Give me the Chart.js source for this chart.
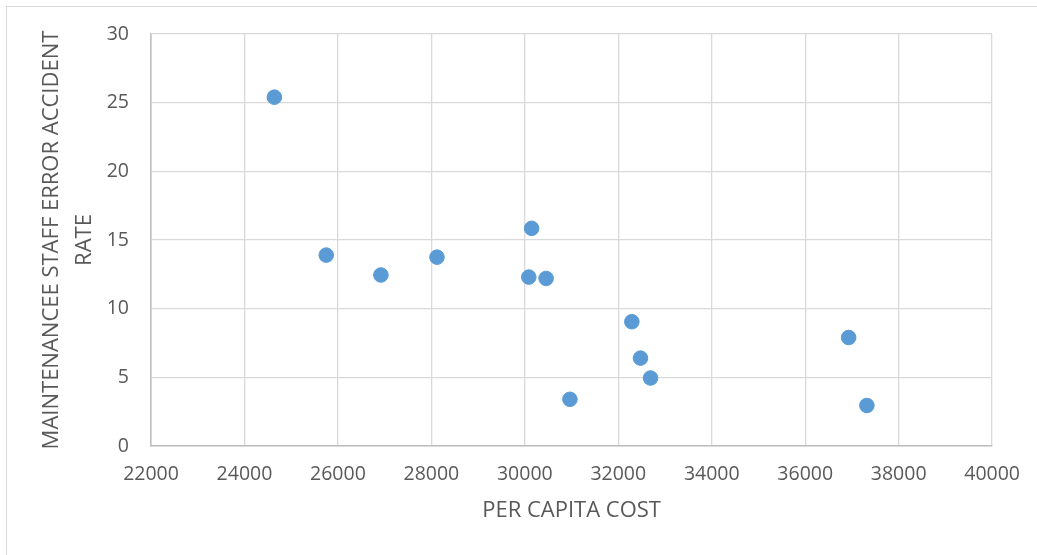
<!DOCTYPE html>
<html lang="en">
<head>
    <meta charset="UTF-8">
    <title>Per Capita Cost vs Maintenance Staff Error Accident Rate</title>
    <script src="https://cdn.jsdelivr.net/npm/chart.js"></script>
    <style>
        body {
            margin: 0;
            background: #ffffff;
            font-family: "Open Sans", sans-serif;
        }
        .frame {
            position: absolute;
            left: 6px;
            top: 6px;
            width: 1031px;
            height: 549px;
            border-top: 1px solid #d9d9d9;
            border-left: 1px solid #d9d9d9;
        }
        canvas {
            position: absolute;
            left: 0;
            top: 0;
        }
    </style>
</head>
<body>
    <div class="frame"></div>
    <canvas id="scatterChart" width="1037" height="555"></canvas>

    <script>
        // per capita cost (x) and maintenance staff error accident rate (y)
        const perCapitaCost = [24640, 25750, 26920, 28120, 30145, 30085, 30455, 32290, 32475, 32690, 30965, 36930, 37320];
        const accidentRate = [25.4, 13.9, 12.45, 13.75, 15.85, 12.3, 12.2, 9.05, 6.4, 4.95, 3.4, 7.9, 2.95];

        const xTitle = 'PER CAPITA COST';
        const yTitle = ['MAINTENANCEE STAFF ERROR ACCIDENT', 'RATE'];

        const points = perCapitaCost.map((x, i) => ({ x: x, y: accidentRate[i] }));

        const textColor = '#595959';
        const gridColor = '#d9d9d9';
        const axisColor = '#bfbfbf';
        const tickFont = { family: 'Open Sans', size: 19.5 };

        const ctx = document.getElementById('scatterChart').getContext('2d');
        const chart = new Chart(ctx, {
            type: 'scatter',
            data: {
                datasets: [{
                    label: 'Accident rate',
                    data: points,
                    backgroundColor: '#5b9bd5',
                    borderColor: '#5b9bd5',
                    pointRadius: 7.3,
                    pointHoverRadius: 7.3
                }]
            },
            options: {
                responsive: false,
                animation: false,
                layout: {
                    padding: { left: 0, top: 34, right: 44, bottom: 0 }
                },
                plugins: {
                    legend: { display: false },
                    tooltip: { enabled: false }
                },
                scales: {
                    x: {
                        type: 'linear',
                        min: 22000,
                        max: 40000,
                        afterFit: (scale) => { scale.height = 109; },
                        ticks: {
                            stepSize: 2000,
                            color: textColor,
                            font: tickFont,
                            padding: 17,
                            maxRotation: 0,
                            callback: (v) => String(v)
                        },
                        grid: {
                            color: gridColor,
                            lineWidth: 1.3,
                            drawTicks: false
                        },
                        border: { color: axisColor, width: 1.6 },
                        title: {
                            display: true,
                            text: xTitle,
                            color: textColor,
                            font: { family: 'Open Sans', size: 22 },
                            padding: { top: 0, bottom: 31 }
                        }
                    },
                    y: {
                        min: 0,
                        max: 30,
                        afterFit: (scale) => { scale.width = 151; },
                        ticks: {
                            stepSize: 5,
                            color: textColor,
                            font: tickFont,
                            padding: 22
                        },
                        grid: {
                            color: gridColor,
                            lineWidth: 1.3,
                            drawTicks: false
                        },
                        border: { color: axisColor, width: 1.6 },
                        title: {
                            display: true,
                            text: yTitle,
                            color: textColor,
                            font: { family: 'Open Sans', size: 22, lineHeight: 1.5 },
                            padding: { top: 35, bottom: 0 }
                        }
                    }
                }
            }
        });
    </script>
</body>
</html>
